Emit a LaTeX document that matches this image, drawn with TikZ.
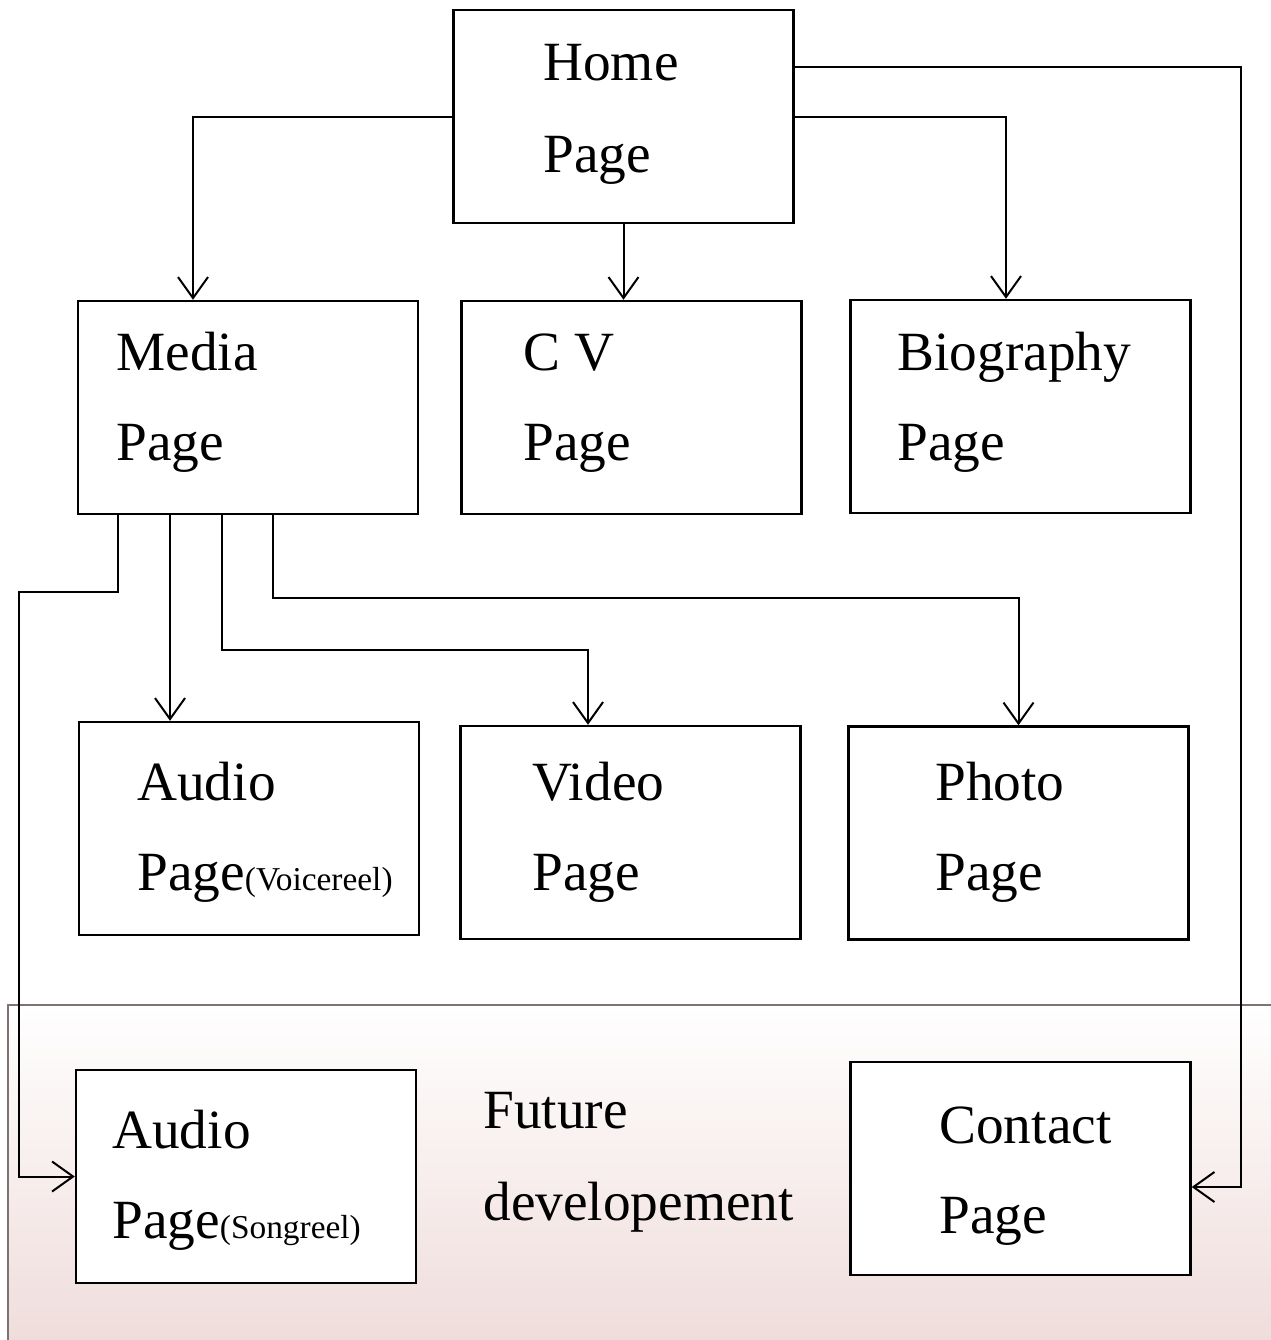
\documentclass[tikz,border=0pt]{standalone}
\usepackage{fontspec}
\setmainfont{Liberation Serif}
\usetikzlibrary{arrows.meta}
\definecolor{pinkband}{RGB}{239,221,219}
\definecolor{bandline}{RGB}{125,115,113}

\begin{document}
\begin{tikzpicture}[x=0.02cm,y=-0.02cm,
  pagebox/.style={draw,fill=white,line width=0.05cm,minimum width=6.8cm,minimum height=4.26cm,inner sep=0pt},
  big/.style={anchor=base west,inner sep=0pt,font=\fontsize{31.5}{38}\selectfont},
  link/.style={line width=0.04cm,-{Straight Barb[length=0.42cm,width=0.6cm]}}]
\useasboundingbox (0,0) rectangle (1271,1340);
% future developement band
\shade[top color=white,bottom color=pinkband] (8,1005) rectangle (1271,1340);
\draw[line width=0.04cm,bandline] (1271,1005) -- (8,1005) -- (8,1340);

\node[pagebox] (home) at (623.5,116.5) {};
\node[pagebox] (media) at (248,407.5) {};
\node[pagebox] (cv) at (631.5,407.5) {};
\node[pagebox] (bio) at (1020.5,406.5) {};
\node[pagebox] (voice) at (249,828.5) {};
\node[pagebox] (video) at (630.5,832.5) {};
\node[pagebox] (photo) at (1018.5,833) {};
\node[pagebox] (song) at (246,1176.5) {};
\node[pagebox] (contact) at (1020.5,1168.5) {};

\node[big] (home-a) at (543,80) {Home};
\node[big] (home-b) at (543,172) {Page};
\node[big] (media-a) at (116,370) {Media};
\node[big] (media-b) at (116,460) {Page};
\node[big] (cv-a) at (523,370) {C V};
\node[big] (cv-b) at (523,460) {Page};
\node[big] (bio-a) at (897,370) {Biography};
\node[big] (bio-b) at (897,460) {Page};
\node[big] (voice-a) at (137,800) {Audio};
\node[big] (voice-b) at (137,890) {Page{\fontsize{19}{22}\selectfont(Voicereel)}};
\node[big] (video-a) at (532,800) {Video};
\node[big] (video-b) at (532,890) {Page};
\node[big] (photo-a) at (935,800) {Photo};
\node[big] (photo-b) at (935,890) {Page};
\node[big] (song-a) at (112,1148) {Audio};
\node[big] (song-b) at (112,1238) {Page{\fontsize{19}{22}\selectfont(Songreel)}};
\node[big] (future-a) at (483,1128) {Future};
\node[big] (future-b) at (483,1220) {developement};
\node[big] (contact-a) at (939,1143) {Contact};
\node[big] (contact-b) at (939,1233) {Page};

% from home
\draw[link] (home.west) -| ([xshift=-1.1cm]media.north);
\draw[link] (home.south) -- (home.south |- cv.north);
\draw[link] (home.east) -| ([xshift=-0.29cm]bio.north);
\draw[link] ([yshift=1cm]home.east) -- ++(446,0) |- ([yshift=-0.37cm]contact.east);
% from media
\draw[link] ([xshift=-2.6cm]media.south) -- ++(0,77) -- ++(-99,0) |- (song.west);
\draw[link] ([xshift=-1.56cm]media.south) -- ([xshift=-1.56cm]media.south |- voice.north);
\draw[link] ([xshift=-0.52cm]media.south) -- ++(0,135) -| ([xshift=-0.85cm]video.north);
\draw[link] ([xshift=0.5cm]media.south) -- ++(0,83) -| (photo.north);
\end{tikzpicture}
\end{document}
